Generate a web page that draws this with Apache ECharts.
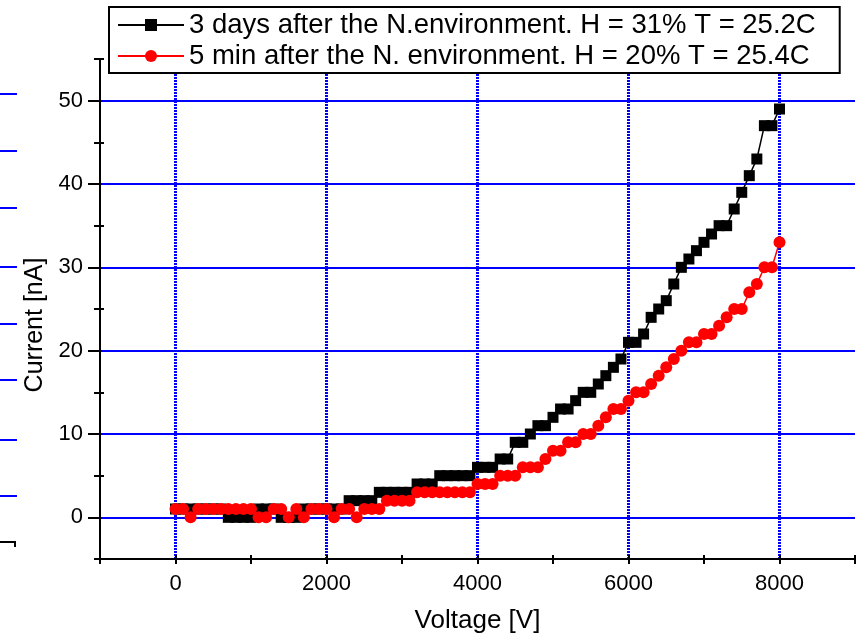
<!DOCTYPE html>
<html>
<head>
<meta charset="utf-8">
<script src="https://cdn.jsdelivr.net/npm/echarts@6/dist/echarts.min.js"></script>
<style>
html,body{margin:0;padding:0;background:#fff;}
#chart{width:857px;height:635px;}
</style>
</head>
<body>
<div id="chart"></div>
<script>
// ---- data ----
const voltage = [
  0,100,200,300,400,500,600,700,800,900,
  1000,1100,1200,1300,1400,1500,1600,1700,1800,1900,
  2000,2100,2200,2300,2400,2500,2600,2700,2800,2900,
  3000,3100,3200,3300,3400,3500,3600,3700,3800,3900,
  4000,4100,4200,4300,4400,4500,4600,4700,4800,4900,
  5000,5100,5200,5300,5400,5500,5600,5700,5800,5900,
  6000,6100,6200,6300,6400,6500,6600,6700,6800,6900,
  7000,7100,7200,7300,7400,7500,7600,7700,7800,7900,
  8000
];
const current3days = [
  1,1,1,1,1,1,1,0,0,0,
  0,1,1,1,0,0,0,1,1,1,
  1,1,1,2,2,2,2,3,3,3,
  3,3,4,4,4,5,5,5,5,5,
  6,6,6,7,7,9,9,10,11,11,
  12,13,13,14,15,15,16,17,18,19,
  21,21,22,24,25,26,28,30,31,32,
  33,34,35,35,37,39,41,43,47,47,
  49
];
const current5min = [
  1,1,0,1,1,1,1,1,1,1,
  1,0,0,1,1,0,1,0,1,1,
  1,0,1,1,0,1,1,1,2,2,
  2,2,3,3,3,3,3,3,3,3,
  4,4,4,5,5,5,6,6,6,7,
  8,8,9,9,10,10,11,12,13,13,
  14,15,15,16,17,18,19,20,21,21,
  22,22,23,24,25,25,27,28,30,30,
  33
];
const seriesNames = [
  '3 days after the N.environment. H = 31% T = 25.2C',
  '5 min after the N. environment. H = 20% T = 25.4C'
];
const xMajorTicks = [0,2000,4000,6000,8000];
const xAllTicks = [-1000,0,1000,2000,3000,4000,5000,6000,7000,8000,9000];
const yMajorTicks = [0,10,20,30,40,50];
const yMinorTicks = [-5,5,15,25,35,45,55];
const xRange = [-1000, 9000];
const yRange = [-5, 55];

// ---- chart ----
const FONT = 'Liberation Sans, Arial, sans-serif';
const chart = echarts.init(document.getElementById('chart'), null, {renderer:'canvas'});

function pairs(xs, ys){ return xs.map((x,i)=>[x, ys[i]]); }
const plain = v => String(v);

const baseX = {type:'value', min:xRange[0], max:xRange[1], position:'bottom', gridIndex:0};
const baseY = {type:'value', min:yRange[0], max:yRange[1], position:'left', gridIndex:0};
const noZero = {show:true, onZero:false, lineStyle:{color:'#000', width:2}};
const hiddenLine = {show:false, onZero:false};

const option = {
  animation:false,
  backgroundColor:'#ffffff',
  grid:{left:100, right:2, top:59, bottom:76, containLabel:false, outerBoundsMode:'none'},
  legend:{
    orient:'vertical', left:109, top:7,
    backgroundColor:'#ffffff', borderColor:'#000000', borderWidth:2,
    padding:[4,24,3,8], itemGap:3, itemWidth:66, itemHeight:15,
    textStyle:{fontSize:27.5, fontFamily:FONT, color:'#000'},
    z:10,
    data:seriesNames
  },
  xAxis:[
    Object.assign({}, baseX, {
      name:'Voltage [V]', nameLocation:'middle', nameGap:49,
      nameTextStyle:{fontSize:26, fontFamily:FONT, color:'#000'},
      axisLine:noZero,
      axisTick:{show:true, length:5, inside:false, customValues:xAllTicks, lineStyle:{color:'#000', width:2}},
      axisLabel:{show:true, customValues:xMajorTicks, formatter:plain, margin:14, fontSize:22, fontFamily:FONT, color:'#000'},
      splitLine:{show:false}
    }),
    Object.assign({}, baseX, {
      axisLine:hiddenLine,
      axisTick:{show:true, length:4, inside:true, customValues:xAllTicks, lineStyle:{color:'#000', width:2}},
      axisLabel:{show:false},
      splitLine:{show:false}
    }),
    Object.assign({}, baseX, {
      axisLine:hiddenLine,
      axisTick:{show:false, customValues:xMajorTicks},
      axisLabel:{show:false},
      splitLine:{show:true, lineStyle:{color:'#0000ff', width:3, type:[2,1]}}
    })
  ],
  yAxis:[
    Object.assign({}, baseY, {
      name:'Current [nA]', nameLocation:'middle', nameGap:52,
      nameTextStyle:{fontSize:25, fontFamily:FONT, color:'#000', padding:[0,32,0,0]},
      axisLine:noZero,
      axisTick:{show:true, length:12, inside:false, customValues:yMajorTicks, lineStyle:{color:'#000', width:2}},
      axisLabel:{show:true, customValues:yMajorTicks, formatter:plain, margin:17, fontSize:22, fontFamily:FONT, color:'#000'},
      splitLine:{show:true, lineStyle:{color:'#0000ff', width:2, type:'solid'}}
    }),
    Object.assign({}, baseY, {
      axisLine:hiddenLine,
      axisTick:{show:true, length:6, inside:false, customValues:yMinorTicks, lineStyle:{color:'#000', width:2}},
      axisLabel:{show:false},
      splitLine:{show:false}
    }),
    Object.assign({}, baseY, {
      axisLine:hiddenLine,
      axisTick:{show:true, length:4, inside:true, customValues:yMinorTicks, lineStyle:{color:'#000', width:2}},
      axisLabel:{show:false},
      splitLine:{show:false}
    })
  ],
  series:[
    {
      name:seriesNames[0], type:'line', xAxisIndex:0, yAxisIndex:0,
      data:pairs(voltage, current3days),
      symbol:'rect', symbolSize:11,
      itemStyle:{color:'#000000'},
      lineStyle:{color:'#000000', width:1.5},
      z:3
    },
    {
      name:seriesNames[1], type:'line', xAxisIndex:0, yAxisIndex:0,
      data:pairs(voltage, current5min),
      symbol:'circle', symbolSize:12,
      itemStyle:{color:'#ff0000'},
      lineStyle:{color:'#ff0000', width:1.5},
      z:4
    }
  ],
  graphic:[
    // cropped neighbour-figure remnants along the left edge
    {type:'group', silent:true, children:[
      {type:'line', shape:{x1:0,y1:94,x2:17,y2:94}, style:{stroke:'#0000ff', lineWidth:2}},
      {type:'line', shape:{x1:0,y1:151,x2:17,y2:151}, style:{stroke:'#0000ff', lineWidth:2}},
      {type:'line', shape:{x1:0,y1:208,x2:17,y2:208}, style:{stroke:'#0000ff', lineWidth:2}},
      {type:'line', shape:{x1:0,y1:267,x2:17,y2:267}, style:{stroke:'#0000ff', lineWidth:2}},
      {type:'line', shape:{x1:0,y1:324,x2:17,y2:324}, style:{stroke:'#0000ff', lineWidth:2}},
      {type:'line', shape:{x1:0,y1:380,x2:17,y2:380}, style:{stroke:'#0000ff', lineWidth:2}},
      {type:'line', shape:{x1:0,y1:440,x2:17,y2:440}, style:{stroke:'#0000ff', lineWidth:2}},
      {type:'line', shape:{x1:0,y1:496,x2:17,y2:496}, style:{stroke:'#0000ff', lineWidth:2}},
      {type:'polyline', shape:{points:[[0,542],[15,542],[15,547]]}, style:{stroke:'#000', lineWidth:2, fill:null}}
    ]}
  ]
};
chart.setOption(option);
</script>
</body>
</html>
